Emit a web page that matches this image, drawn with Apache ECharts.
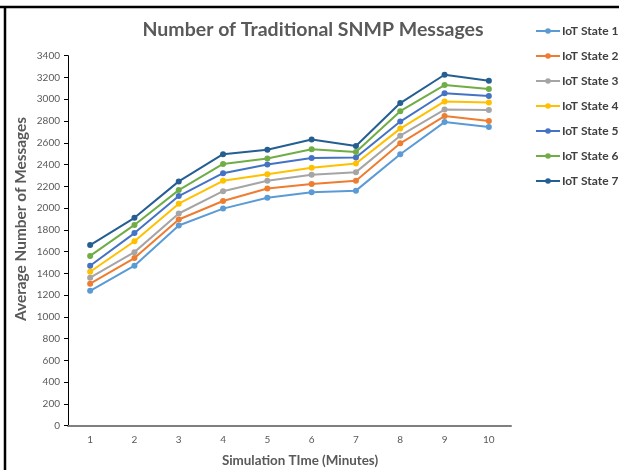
<!DOCTYPE html>
<html><head><meta charset="utf-8">
<script src="https://cdn.jsdelivr.net/npm/echarts@6/dist/echarts.min.js"></script>
<style>html,body{margin:0;padding:0;background:#fff}#c{width:619px;height:470px}</style>
</head><body><div id="c"></div>
<script>
const categories = ['1','2','3','4','5','6','7','8','9','10'];
const seriesNames = ['IoT State 1','IoT State 2','IoT State 3','IoT State 4','IoT State 5','IoT State 6','IoT State 7'];
const state1 = [1240,1470,1840,1995,2095,2145,2160,2495,2790,2745];
const state2 = [1305,1540,1895,2065,2180,2220,2250,2595,2845,2800];
const state3 = [1360,1595,1950,2155,2250,2305,2330,2665,2905,2900];
const state4 = [1415,1695,2040,2250,2310,2370,2410,2730,2980,2970];
const state5 = [1470,1770,2110,2320,2400,2460,2465,2795,3055,3030];
const state6 = [1560,1845,2165,2405,2455,2540,2515,2890,3130,3095];
const state7 = [1660,1910,2245,2495,2535,2630,2570,2965,3225,3170];
const colors = ['#5B9BD5','#ED7D31','#A5A5A5','#FFC000','#4472C4','#70AD47','#255E91'];
const allData = [state1,state2,state3,state4,state5,state6,state7];
const font = 'Lato, "Open Sans", sans-serif';

const chart = echarts.init(document.getElementById('c'), null, {renderer:'canvas'});
chart.setOption({
  animation:false,
  textStyle:{fontFamily:font},
  title:{text:'Number of Traditional SNMP Messages',left:308,textAlign:'center',top:15,
    textStyle:{fontSize:19.5,fontWeight:'bold',color:'#595959',fontFamily:font}},
  legend:{orient:'vertical',left:530,top:19,itemGap:11,itemWidth:24,itemHeight:7,
    textStyle:{fontSize:12,fontWeight:'bold',color:'#404040',fontFamily:font,padding:[0,0,0,-3],lineHeight:14},
    data:seriesNames},
  grid:{left:68,right:108,top:55.7,bottom:44.3,containLabel:false,outerBoundsMode:'none'},
  xAxis:{type:'category',data:categories,boundaryGap:true,
    axisLine:{lineStyle:{color:'#7f7f7f',width:2}},
    axisTick:{show:false},
    axisLabel:{fontSize:10,color:'#595959',margin:9,fontFamily:font},
    splitLine:{show:false}},
  yAxis:{type:'value',min:0,max:3400,interval:200,
    axisLine:{show:true,lineStyle:{color:'#000',width:1}},
    axisTick:{show:true,length:4,lineStyle:{color:'#000'}},
    axisLabel:{fontSize:10,color:'#595959',margin:8,fontFamily:font,formatter:v=>String(v)},
    splitLine:{show:false}},
  series: seriesNames.map((n,i)=>({
    name:n,type:'line',data:allData[i],symbol:'circle',symbolSize:6,
    itemStyle:{color:colors[i]},lineStyle:{color:colors[i],width:2}
  })),
  graphic:[
    {type:'line',shape:{x1:0,y1:7,x2:619,y2:7},style:{stroke:'#000',lineWidth:2.5}},
    {type:'line',shape:{x1:5,y1:6,x2:5,y2:470},style:{stroke:'#000',lineWidth:2.5}},
    {type:'text',x:21,y:219,rotation:Math.PI/2,
      style:{text:'Average Number of Messages',fontSize:15.4,fontWeight:'bold',fill:'#595959',
        fontFamily:font,align:'center',verticalAlign:'middle'}},
    {type:'text',x:300,y:461,
      style:{text:'Simulation TIme (Minutes)',fontSize:13.4,fontWeight:'bold',fill:'#595959',
        fontFamily:font,align:'center',verticalAlign:'middle'}}
  ]
});
</script></body></html>
